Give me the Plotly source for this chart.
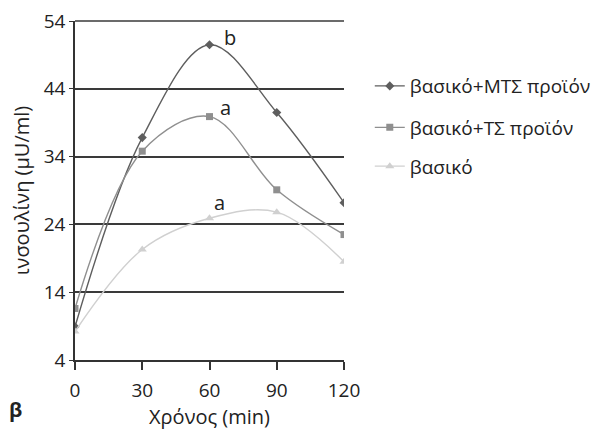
import plotly.graph_objects as go

time_min = [0, 30, 60, 90, 120]
mts = [8.9, 36.8, 50.5, 40.5, 27.2]
ts = [11.6, 34.8, 39.9, 29.1, 22.5]
basic = [8.2, 20.3, 24.9, 25.8, 18.5]
names = ["βασικό+ΜΤΣ προϊόν", "βασικό+ΤΣ προϊόν", "βασικό"]
y_ticks = [4, 14, 24, 34, 44, 54]
x_ticks = [0, 30, 60, 90, 120]
labels = [("b", 69, 51.6), ("a", 67.3, 41.2), ("a", 64.5, 27.3)]

font = "Open Sans"
fs = 19
lfs = 19
tfs = 19
fig = go.Figure()
styles = [
    (mts, "#5e5e5e", "diamond", 7, "legend", 0.823),
    (ts, "#8f8f8f", "square", 7, "legend2", 0.729),
    (basic, "#d0d0d0", "triangle-up", 8, "legend3", 0.641),
]
legend_layout = {}
for (vals, col, sym, sz, lg, ly), nm in zip(styles, names):
    fig.add_trace(go.Scatter(
        x=time_min, y=vals, name=nm, mode="lines+markers", legend=lg,
        line=dict(color=col, width=1.4, shape="spline", smoothing=1.0),
        marker=dict(symbol=sym, size=sz, color=col),
    ))
    legend_layout[lg] = dict(xref="container", yref="container", x=0.597, y=ly,
                             xanchor="left", yanchor="middle",
                             font=dict(family=font, size=lfs, color="#222"),
                             itemwidth=30, bgcolor="rgba(0,0,0,0)")

for txt, xv, yv in labels:
    fig.add_annotation(x=xv, y=yv, text=txt, showarrow=False,
                       font=dict(family=font, size=20, color="#222"))

fig.add_annotation(xref="paper", yref="paper", x=-0.223, y=-0.147, text="<b>β</b>",
                   showarrow=False, font=dict(family=font, size=20, color="#222"),
                   xanchor="center", yanchor="middle")

# top gridline at the upper edge of the plot area (plotly skips edge gridlines)
fig.add_shape(type="line", xref="paper", yref="paper", x0=0, x1=1,
              y0=1, y1=1, layer="below",
              line=dict(color="#3a3a3a", width=1.5))

fig.update_layout(
    width=606, height=441,
    margin=dict(l=67, r=270, t=13, b=89),
    paper_bgcolor="white", plot_bgcolor="white",
    font=dict(family=font, size=fs, color="#222"),
    showlegend=True,
    xaxis=dict(range=[0, 120], tickvals=x_ticks, showgrid=False, zeroline=False,
               showline=True, linecolor="#333", linewidth=1.5, ticks="outside",
               ticklen=8, tickcolor="#333", tickwidth=1.5, automargin=False,
               ticklabeloverflow="allow", ticklabelstandoff=4,
               title=dict(text="Χρόνος (min)", font=dict(size=20), standoff=5),
               tickfont=dict(size=tfs)),
    yaxis=dict(range=[4, 54], tickvals=y_ticks, showgrid=True, gridcolor="#3a3a3a",
               gridwidth=1.5, zeroline=False, showline=True, linecolor="#333",
               linewidth=1.5, ticks="outside", ticklen=4, tickcolor="#333",
               automargin=False, ticklabeloverflow="allow",
               title=dict(text="ινσουλίνη (μU/ml)", font=dict(size=20), standoff=20),
               tickfont=dict(size=tfs)),
    **legend_layout,
)
fig.write_html("out.html")
